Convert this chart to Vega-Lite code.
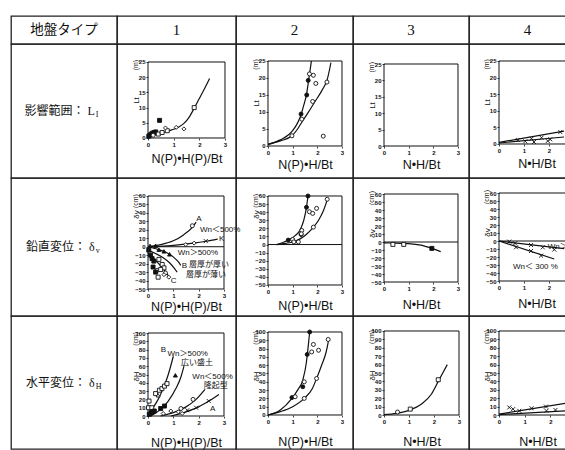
{
"$schema":"https://vega.github.io/schema/vega-lite/v6.json",
"padding":{"left":10,"top":15,"right":0,"bottom":0},
"background":"white",
"columns":5,
"spacing":0,
"bounds":"flush",
"config":{
 "view":{"stroke":"#222","strokeWidth":1.3},
 "axis":{"domain":false,"grid":false,"tickCount":30,"tickSize":2,"tickColor":"#111","tickWidth":0.8,"labelFontSize":6,"labelFontWeight":"bold","labelColor":"#111","labelPadding":1,"labelFont":"Liberation Sans","labelOverlap":false,"labelFlush":false,"labelSeparation":0,"titleFont":"Liberation Sans","titleFontWeight":"normal","titleColor":"#111"},
 "axisX":{"titleFontSize":12.5,"titleBaseline":"middle","titleAlign":"center"},
 "axisY":{"titleFontSize":8,"titleBaseline":"middle","titleAlign":"center","titleAngle":270},
 "text":{"color":"#111"},
 "line":{"color":"#111","strokeWidth":1.2},
 "rule":{"color":"#111","strokeWidth":1},
 "point":{"filled":true,"opacity":1,"stroke":"#111","strokeWidth":0.9,"size":16}
},
"concat":[
 {"width":106,"height":28,"data":{"values":[{}]},"mark":{"type":"text","fontSize":13.5,"font":"Noto Sans CJK JP"},"encoding":{"x":{"datum":0.5,"type":"quantitative","scale":{"domain":[0,1]},"axis":null},"y":{"datum":0.5,"type":"quantitative","scale":{"domain":[0,1]},"axis":null},"text":{"value":"地盤タイプ"}}},
 {"width":119,"height":28,"data":{"values":[{}]},"mark":{"type":"text","fontSize":15,"font":"Liberation Serif"},"encoding":{"x":{"datum":0.5,"type":"quantitative","scale":{"domain":[0,1]},"axis":null},"y":{"datum":0.5,"type":"quantitative","scale":{"domain":[0,1]},"axis":null},"text":{"value":"1"}}},
 {"width":117,"height":28,"data":{"values":[{}]},"mark":{"type":"text","fontSize":15,"font":"Liberation Serif"},"encoding":{"x":{"datum":0.5,"type":"quantitative","scale":{"domain":[0,1]},"axis":null},"y":{"datum":0.5,"type":"quantitative","scale":{"domain":[0,1]},"axis":null},"text":{"value":"2"}}},
 {"width":116,"height":28,"data":{"values":[{}]},"mark":{"type":"text","fontSize":15,"font":"Liberation Serif"},"encoding":{"x":{"datum":0.5,"type":"quantitative","scale":{"domain":[0,1]},"axis":null},"y":{"datum":0.5,"type":"quantitative","scale":{"domain":[0,1]},"axis":null},"text":{"value":"3"}}},
 {"width":117,"height":28,"data":{"values":[{}]},"mark":{"type":"text","fontSize":15,"font":"Liberation Serif"},"encoding":{"x":{"datum":0.5,"type":"quantitative","scale":{"domain":[0,1]},"axis":null},"y":{"datum":0.5,"type":"quantitative","scale":{"domain":[0,1]},"axis":null},"text":{"value":"4"}}},

 {"width":106,"height":134,"data":{"values":[{}]},"layer":[
  {"mark":{"type":"text","align":"right","baseline":"middle","fontSize":12,"font":"Liberation Serif, Noto Sans CJK JP"},"encoding":{"x":{"datum":0.79,"type":"quantitative","scale":{"domain":[0,1]},"axis":null},"y":{"datum":0.5,"type":"quantitative","scale":{"domain":[0,1]},"axis":null},"text":{"value":"影響範囲： L"}}},
  {"mark":{"type":"text","align":"left","baseline":"middle","fontSize":8,"dy":4,"font":"Liberation Serif"},"encoding":{"x":{"datum":0.8,"type":"quantitative","scale":{"domain":[0,1]},"axis":null},"y":{"datum":0.5,"type":"quantitative","scale":{"domain":[0,1]},"axis":null},"text":{"value":"I"}}}
 ]},
 {"width":119,"height":134,
  "layer":[
   {"data":{"values":[{}]},"mark":{"type":"rect","fillOpacity":0,"stroke":"#111","strokeWidth":1},"encoding":{"x":{"datum":0,"type":"quantitative","scale":{"domain":[-1.208,3.429]},"axis":{"values":[0,1,2,3],"format":"d","tickCount":30,"labelOverlap":false,"offset":-40,"title":"N(P)•H(P)/Bt","titleX":69.5,"titleY":20}},"x2":{"datum":3},"y":{"datum":0,"type":"quantitative","scale":{"domain":[-13.158,30.921]},"axis":{"values":[0,5,10,15,20,25],"format":"d","tickCount":30,"labelOverlap":false,"offset":-31,"title":"Lt","titleX":-12,"titleY":56}},"y2":{"datum":25}}},
   {"data":{"values":[{}]},"mark":{"type":"text","angle":270,"fontSize":7,"font":"Liberation Sans"},"encoding":{"x":{"datum":-0.47,"type":"quantitative","scale":{"domain":[-1.208,3.429]}},"y":{"datum":24,"type":"quantitative","scale":{"domain":[-13.158,30.921]}},"text":{"value":"(m)"}}},
   {"data":{"values":[{"s":"a","x":0,"y":0.4},{"s":"a","x":0.3,"y":1.0},{"s":"a","x":0.6,"y":1.8},{"s":"a","x":0.9,"y":2.6},{"s":"a","x":1.2,"y":3.6},{"s":"a","x":1.4,"y":4.8},{"s":"a","x":1.6,"y":6.8},{"s":"a","x":1.8,"y":9.8},{"s":"a","x":2.0,"y":13},{"s":"a","x":2.2,"y":16.2},{"s":"a","x":2.4,"y":19.6}]},"mark":{"type":"line","interpolate":"monotone"},"encoding":{"x":{"field":"x","type":"quantitative","scale":{"domain":[-1.208,3.429]}},"y":{"field":"y","type":"quantitative","scale":{"domain":[-13.158,30.921]}},"detail":{"field":"s"}}},
   {"data":{"values":[{"m":"fs","x":0.03,"y":0.6},{"m":"fs","x":0.08,"y":1.0},{"m":"fs","x":0.13,"y":1.3},{"m":"fs","x":0.18,"y":1.6},{"m":"fs","x":0.24,"y":1.8},{"m":"fs","x":0.3,"y":2.0},{"m":"fs","x":0.45,"y":5.8},{"m":"os","x":0.4,"y":1.3},{"m":"os","x":0.55,"y":1.8},{"m":"os","x":0.75,"y":2.4},{"m":"os","x":1.8,"y":10},{"m":"od","x":0.68,"y":3.3},{"m":"od","x":1.1,"y":3.5},{"m":"od","x":1.4,"y":3.0},{"m":"oc","x":0.2,"y":0.9}]},"mark":{"type":"point"},"encoding":{"x":{"field":"x","type":"quantitative","scale":{"domain":[-1.208,3.429]}},"y":{"field":"y","type":"quantitative","scale":{"domain":[-13.158,30.921]}},"shape":{"field":"m","type":"nominal","scale":{"domain":["oc","fc","os","fs","od","ot","ft","x"],"range":["circle","circle","square","square","diamond","triangle-up","triangle-up","M-1,-1L1,1M-1,1L1,-1"]},"legend":null},"fill":{"field":"m","type":"nominal","scale":{"domain":["oc","fc","os","fs","od","ot","ft","x"],"range":["#fff","#111","#fff","#111","#fff","#fff","#111","transparent"]},"legend":null}}}
  ]},
 {"width":117,"height":134,
  "layer":[
   {"data":{"values":[{}]},"mark":{"type":"rect","fillOpacity":0,"stroke":"#111","strokeWidth":1},"encoding":{"x":{"datum":0,"type":"quantitative","scale":{"domain":[-1.297,3.446]},"axis":{"values":[0,1,2,3],"format":"d","tickCount":30,"labelOverlap":false,"offset":-32,"title":"N(P)•H/Bt","titleX":69,"titleY":18}},"x2":{"datum":3},"y":{"datum":0,"type":"quantitative","scale":{"domain":[-9.412,30.0]},"axis":{"values":[0,5,10,15,20,25],"format":"d","tickCount":30,"labelOverlap":false,"offset":-32,"title":"Lt","titleX":-12,"titleY":59}},"y2":{"datum":25}}},
   {"data":{"values":[{}]},"mark":{"type":"text","angle":270,"fontSize":7,"font":"Liberation Sans"},"encoding":{"x":{"datum":-0.47,"type":"quantitative","scale":{"domain":[-1.297,3.446]}},"y":{"datum":24,"type":"quantitative","scale":{"domain":[-9.412,30.0]}},"text":{"value":"(m)"}}},
   {"data":{"values":[{"s":"a","x":0,"y":0.5},{"s":"a","x":0.5,"y":1.8},{"s":"a","x":1.0,"y":4.5},{"s":"a","x":1.2,"y":6.8},{"s":"a","x":1.34,"y":9.2},{"s":"a","x":1.45,"y":12},{"s":"a","x":1.57,"y":15.5},{"s":"a","x":1.65,"y":19.5},{"s":"a","x":1.72,"y":23},{"s":"a","x":1.76,"y":25},{"s":"b","x":0,"y":0.5},{"s":"b","x":0.5,"y":1.5},{"s":"b","x":0.97,"y":3},{"s":"b","x":1.2,"y":5},{"s":"b","x":1.37,"y":7},{"s":"b","x":1.6,"y":9.5},{"s":"b","x":1.9,"y":13},{"s":"b","x":2.2,"y":16.5},{"s":"b","x":2.4,"y":19.5},{"s":"b","x":2.55,"y":24.5}]},"mark":{"type":"line","interpolate":"monotone"},"encoding":{"x":{"field":"x","type":"quantitative","scale":{"domain":[-1.297,3.446]}},"y":{"field":"y","type":"quantitative","scale":{"domain":[-9.412,30.0]}},"detail":{"field":"s"}}},
   {"data":{"values":[{"m":"oc","x":1.68,"y":21.2},{"m":"oc","x":1.84,"y":20.8},{"m":"oc","x":1.94,"y":18.4},{"m":"oc","x":1.81,"y":13.1},{"m":"oc","x":1.37,"y":7.9},{"m":"oc","x":0.97,"y":3},{"m":"oc","x":2.24,"y":2.9},{"m":"oc","x":2.39,"y":18.8},{"m":"fc","x":1.63,"y":19.3},{"m":"fc","x":1.57,"y":15},{"m":"fc","x":1.34,"y":9.4}]},"mark":{"type":"point"},"encoding":{"x":{"field":"x","type":"quantitative","scale":{"domain":[-1.297,3.446]}},"y":{"field":"y","type":"quantitative","scale":{"domain":[-9.412,30.0]}},"shape":{"field":"m","type":"nominal","scale":{"domain":["oc","fc","os","fs","od","ot","ft","x"],"range":["circle","circle","square","square","diamond","triangle-up","triangle-up","M-1,-1L1,1M-1,1L1,-1"]},"legend":null},"fill":{"field":"m","type":"nominal","scale":{"domain":["oc","fc","os","fs","od","ot","ft","x"],"range":["#fff","#111","#fff","#111","#fff","#fff","#111","transparent"]},"legend":null}}}
  ]},
 {"width":116,"height":134,
  "layer":[
   {"data":{"values":[{}]},"mark":{"type":"rect","fillOpacity":0,"stroke":"#111","strokeWidth":1},"encoding":{"x":{"datum":0,"type":"quantitative","scale":{"domain":[-1.257,3.446]},"axis":{"values":[0,1,2,3],"format":"d","tickCount":30,"labelOverlap":false,"offset":-32,"title":"N•H/Bt","titleX":68,"titleY":18}},"x2":{"datum":3},"y":{"datum":0,"type":"quantitative","scale":{"domain":[-9.756,31.098]},"axis":{"values":[0,5,10,15,20,25],"format":"d","tickCount":30,"labelOverlap":false,"offset":-31,"title":"Lt","titleX":-12,"titleY":61}},"y2":{"datum":25}}},
   {"data":{"values":[{}]},"mark":{"type":"text","angle":270,"fontSize":7,"font":"Liberation Sans"},"encoding":{"x":{"datum":-0.47,"type":"quantitative","scale":{"domain":[-1.257,3.446]}},"y":{"datum":24,"type":"quantitative","scale":{"domain":[-9.756,31.098]}},"text":{"value":"(m)"}}}
  ]},
 {"width":117,"height":134,
  "layer":[
   {"data":{"values":[{}]},"mark":{"type":"rect","fillOpacity":0,"stroke":"#111","strokeWidth":1},"encoding":{"x":{"datum":0,"type":"quantitative","scale":{"domain":[-1.2,3.48]},"axis":{"values":[0,1,2,3],"format":"d","tickCount":30,"labelOverlap":false,"offset":-34,"title":"N•H/Bt","titleX":67.5,"titleY":19}},"x2":{"datum":3},"y":{"datum":0,"type":"quantitative","scale":{"domain":[-10.241,30.12]},"axis":{"values":[0,5,10,15,20,25],"format":"d","tickCount":30,"labelOverlap":false,"offset":-30,"title":"Lt","titleX":-12,"titleY":58}},"y2":{"datum":25}}},
   {"data":{"values":[{}]},"mark":{"type":"text","angle":270,"fontSize":7,"font":"Liberation Sans"},"encoding":{"x":{"datum":-0.47,"type":"quantitative","scale":{"domain":[-1.2,3.48]}},"y":{"datum":24,"type":"quantitative","scale":{"domain":[-10.241,30.12]}},"text":{"value":"(m)"}}},
   {"data":{"values":[{"s":"a","x":0,"y":0.5},{"s":"a","x":2.6,"y":3.9},{"s":"b","x":0,"y":0.3},{"s":"b","x":2.6,"y":2.1}]},"mark":{"type":"line"},"encoding":{"x":{"field":"x","type":"quantitative","scale":{"domain":[-1.2,3.48]}},"y":{"field":"y","type":"quantitative","scale":{"domain":[-10.241,30.12]}},"detail":{"field":"s"}}},
   {"data":{"values":[{"m":"x","x":0.75,"y":1.2},{"m":"x","x":1.05,"y":0.8},{"m":"x","x":1.3,"y":1.6},{"m":"x","x":1.4,"y":0.6},{"m":"x","x":1.7,"y":1.9},{"m":"x","x":1.95,"y":0.9},{"m":"x","x":2.05,"y":1.4},{"m":"x","x":2.45,"y":3.6}]},"mark":{"type":"point"},"encoding":{"x":{"field":"x","type":"quantitative","scale":{"domain":[-1.2,3.48]}},"y":{"field":"y","type":"quantitative","scale":{"domain":[-10.241,30.12]}},"shape":{"field":"m","type":"nominal","scale":{"domain":["oc","fc","os","fs","od","ot","ft","x"],"range":["circle","circle","square","square","diamond","triangle-up","triangle-up","M-1,-1L1,1M-1,1L1,-1"]},"legend":null},"fill":{"field":"m","type":"nominal","scale":{"domain":["oc","fc","os","fs","od","ot","ft","x"],"range":["#fff","#111","#fff","#111","#fff","#fff","#111","transparent"]},"legend":null}}}
  ]},

 {"width":106,"height":138,"data":{"values":[{}]},"layer":[
  {"mark":{"type":"text","align":"right","baseline":"middle","fontSize":12,"font":"Liberation Serif, Noto Sans CJK JP"},"encoding":{"x":{"datum":0.79,"type":"quantitative","scale":{"domain":[0,1]},"axis":null},"y":{"datum":0.5,"type":"quantitative","scale":{"domain":[0,1]},"axis":null},"text":{"value":"鉛直変位： δ"}}},
  {"mark":{"type":"text","align":"left","baseline":"middle","fontSize":8,"dy":4,"font":"Liberation Serif"},"encoding":{"x":{"datum":0.8,"type":"quantitative","scale":{"domain":[0,1]},"axis":null},"y":{"datum":0.5,"type":"quantitative","scale":{"domain":[0,1]},"axis":null},"text":{"value":"v"}}}
 ]},
 {"width":119,"height":138,
  "layer":[
   {"data":{"values":[{}]},"mark":{"type":"rect","fillOpacity":0,"stroke":"#111","strokeWidth":1},"encoding":{"x":{"datum":0,"type":"quantitative","scale":{"domain":[-1.224,3.474]},"axis":{"values":[0,1,2,3],"format":"d","tickCount":30,"labelOverlap":false,"offset":-27,"title":"N(P)•H(P)/Bt","titleX":69,"titleY":17}},"x2":{"datum":3},"y":{"datum":-50,"type":"quantitative","scale":{"domain":[-81.935,81.29]},"axis":{"values":[-50,-40,-30,-20,-10,0,10,20,30,40,50,60],"format":"d","tickCount":30,"labelOverlap":false,"offset":-31,"title":"δv","titleX":-12,"titleY":36}},"y2":{"datum":60}}},
   {"data":{"values":[{}]},"mark":{"type":"text","angle":270,"fontSize":7,"font":"Liberation Sans"},"encoding":{"x":{"datum":-0.47,"type":"quantitative","scale":{"domain":[-1.224,3.474]}},"y":{"datum":54,"type":"quantitative","scale":{"domain":[-81.935,81.29]}},"text":{"value":"(cm)"}}},
   {"data":{"values":[{}]},"mark":{"type":"rule"},"encoding":{"x":{"datum":0,"type":"quantitative","scale":{"domain":[-1.224,3.474]}},"x2":{"datum":3},"y":{"datum":0,"type":"quantitative","scale":{"domain":[-81.935,81.29]}}}},
   {"data":{"values":[{"s":"A","x":0,"y":0},{"s":"A","x":0.5,"y":2.5},{"s":"A","x":1.0,"y":7},{"s":"A","x":1.4,"y":14},{"s":"A","x":1.75,"y":23},{"s":"A","x":1.9,"y":29},{"s":"K","x":0,"y":0},{"s":"K","x":0.6,"y":0.8},{"s":"K","x":1.2,"y":2.2},{"s":"K","x":1.8,"y":4.2},{"s":"K","x":2.3,"y":6.5},{"s":"K","x":2.75,"y":9},{"s":"B","x":0,"y":0},{"s":"B","x":0.43,"y":-3.5},{"s":"B","x":0.63,"y":-5.5},{"s":"B","x":0.85,"y":-9},{"s":"B","x":1.05,"y":-13.5},{"s":"B","x":1.2,"y":-18},{"s":"B","x":1.29,"y":-22},{"s":"M","x":0,"y":-4},{"s":"M","x":0.3,"y":-8},{"s":"M","x":0.6,"y":-13},{"s":"M","x":0.85,"y":-19},{"s":"M","x":1.05,"y":-26},{"s":"M","x":1.15,"y":-30},{"s":"C","x":0,"y":-8},{"s":"C","x":0.2,"y":-13},{"s":"C","x":0.45,"y":-21},{"s":"C","x":0.65,"y":-28},{"s":"C","x":0.82,"y":-35}]},"mark":{"type":"line","interpolate":"monotone"},"encoding":{"x":{"field":"x","type":"quantitative","scale":{"domain":[-1.224,3.474]}},"y":{"field":"y","type":"quantitative","scale":{"domain":[-81.935,81.29]}},"detail":{"field":"s"}}},
   {"data":{"values":[{"m":"ft","x":0.08,"y":1},{"m":"ft","x":0.3,"y":1.2},{"m":"ft","x":0.43,"y":-3.5},{"m":"ft","x":0.63,"y":-5.5},{"m":"ft","x":0.85,"y":-9},{"m":"oc","x":1.75,"y":24.8},{"m":"oc","x":0.36,"y":-28},{"m":"oc","x":0.69,"y":-31},{"m":"od","x":1.49,"y":2.5},{"m":"od","x":1.82,"y":4.3},{"m":"od","x":0.63,"y":-33},{"m":"od","x":0.82,"y":-36},{"m":"x","x":2.28,"y":6.7},{"m":"fs","x":0.03,"y":-4},{"m":"fs","x":0.1,"y":-10},{"m":"fs","x":0.16,"y":-14},{"m":"fs","x":0.23,"y":-17},{"m":"fs","x":0.2,"y":-24},{"m":"fs","x":0.3,"y":-30},{"m":"os","x":0.43,"y":-15},{"m":"os","x":0.56,"y":-21},{"m":"os","x":0.63,"y":-25},{"m":"os","x":0.5,"y":-27},{"m":"os","x":0.4,"y":-36}]},"mark":{"type":"point"},"encoding":{"x":{"field":"x","type":"quantitative","scale":{"domain":[-1.224,3.474]}},"y":{"field":"y","type":"quantitative","scale":{"domain":[-81.935,81.29]}},"shape":{"field":"m","type":"nominal","scale":{"domain":["oc","fc","os","fs","od","ot","ft","x"],"range":["circle","circle","square","square","diamond","triangle-up","triangle-up","M-1,-1L1,1M-1,1L1,-1"]},"legend":null},"fill":{"field":"m","type":"nominal","scale":{"domain":["oc","fc","os","fs","od","ot","ft","x"],"range":["#fff","#111","#fff","#111","#fff","#fff","#111","transparent"]},"legend":null}}},
   {"data":{"values":[{"x":1.9,"y":33,"t":"A"},{"x":2.05,"y":20,"t":"Wn＜500%"},{"x":2.8,"y":9,"t":"K"},{"x":1.17,"y":-8,"t":"Wn＞500%"},{"x":1.33,"y":-23,"t":"B"},{"x":1.62,"y":-22,"t":"層厚が厚い"},{"x":1.5,"y":-34,"t":"層厚が薄い"},{"x":0.9,"y":-41,"t":"C"}]},"mark":{"type":"text","align":"left","baseline":"middle","fontSize":8,"font":"Liberation Sans, Noto Sans CJK JP"},"encoding":{"x":{"field":"x","type":"quantitative","scale":{"domain":[-1.224,3.474]}},"y":{"field":"y","type":"quantitative","scale":{"domain":[-81.935,81.29]}},"text":{"field":"t"}}}
  ]},
 {"width":117,"height":138,
  "layer":[
   {"data":{"values":[{}]},"mark":{"type":"rect","fillOpacity":0,"stroke":"#111","strokeWidth":1},"encoding":{"x":{"datum":0,"type":"quantitative","scale":{"domain":[-1.297,3.446]},"axis":{"values":[0,1,2,3],"format":"d","tickCount":30,"labelOverlap":false,"offset":-31,"title":"N(P)•H/Bt","titleX":69,"titleY":20}},"x2":{"datum":3},"y":{"datum":-50,"type":"quantitative","scale":{"domain":[-88.315,82.247]},"axis":{"values":[-50,-40,-30,-20,-10,0,10,20,30,40,50,60],"format":"d","tickCount":30,"labelOverlap":false,"offset":-32,"title":"δv","titleX":-12,"titleY":36}},"y2":{"datum":60}}},
   {"data":{"values":[{}]},"mark":{"type":"text","angle":270,"fontSize":7,"font":"Liberation Sans"},"encoding":{"x":{"datum":-0.47,"type":"quantitative","scale":{"domain":[-1.297,3.446]}},"y":{"datum":54,"type":"quantitative","scale":{"domain":[-88.315,82.247]}},"text":{"value":"(cm)"}}},
   {"data":{"values":[{}]},"mark":{"type":"rule"},"encoding":{"x":{"datum":0,"type":"quantitative","scale":{"domain":[-1.297,3.446]}},"x2":{"datum":3},"y":{"datum":0,"type":"quantitative","scale":{"domain":[-88.315,82.247]}}}},
   {"data":{"values":[{"s":"a","x":0.35,"y":0},{"s":"a","x":0.6,"y":2.5},{"s":"a","x":0.82,"y":5.5},{"s":"a","x":1.1,"y":11},{"s":"a","x":1.3,"y":18},{"s":"a","x":1.45,"y":30},{"s":"a","x":1.56,"y":46},{"s":"a","x":1.62,"y":60},{"s":"b","x":0.35,"y":0},{"s":"b","x":0.7,"y":1.5},{"s":"b","x":1.05,"y":3.5},{"s":"b","x":1.3,"y":7},{"s":"b","x":1.55,"y":12.5},{"s":"b","x":1.8,"y":20},{"s":"b","x":2.05,"y":30},{"s":"b","x":2.25,"y":42},{"s":"b","x":2.42,"y":57}]},"mark":{"type":"line","interpolate":"monotone"},"encoding":{"x":{"field":"x","type":"quantitative","scale":{"domain":[-1.297,3.446]}},"y":{"field":"y","type":"quantitative","scale":{"domain":[-88.315,82.247]}},"detail":{"field":"s"}}},
   {"data":{"values":[{"m":"fc","x":1.62,"y":60},{"m":"fc","x":1.56,"y":46},{"m":"fc","x":1.34,"y":12.5},{"m":"fc","x":0.82,"y":5.5},{"m":"oc","x":1.68,"y":40.5},{"m":"oc","x":1.81,"y":38.5},{"m":"oc","x":1.97,"y":44.7},{"m":"oc","x":2.4,"y":56},{"m":"oc","x":1.84,"y":21.5},{"m":"oc","x":1.37,"y":17.4},{"m":"oc","x":1.35,"y":13.3},{"m":"oc","x":1.0,"y":6.2},{"m":"oc","x":1.05,"y":3.3},{"m":"oc","x":1.23,"y":3.3}]},"mark":{"type":"point"},"encoding":{"x":{"field":"x","type":"quantitative","scale":{"domain":[-1.297,3.446]}},"y":{"field":"y","type":"quantitative","scale":{"domain":[-88.315,82.247]}},"shape":{"field":"m","type":"nominal","scale":{"domain":["oc","fc","os","fs","od","ot","ft","x"],"range":["circle","circle","square","square","diamond","triangle-up","triangle-up","M-1,-1L1,1M-1,1L1,-1"]},"legend":null},"fill":{"field":"m","type":"nominal","scale":{"domain":["oc","fc","os","fs","od","ot","ft","x"],"range":["#fff","#111","#fff","#111","#fff","#fff","#111","transparent"]},"legend":null}}}
  ]},
 {"width":116,"height":138,
  "layer":[
   {"data":{"values":[{}]},"mark":{"type":"rect","fillOpacity":0,"stroke":"#111","strokeWidth":1},"encoding":{"x":{"datum":0,"type":"quantitative","scale":{"domain":[-1.257,3.446]},"axis":{"values":[0,1,2,3],"format":"d","tickCount":30,"labelOverlap":false,"offset":-34,"title":"N•H/Bt","titleX":68,"titleY":22}},"x2":{"datum":3},"y":{"datum":-50,"type":"quantitative","scale":{"domain":[-92.5,80]},"axis":{"values":[-50,-40,-30,-20,-10,0,10,20,30,40,50,60],"format":"d","tickCount":30,"labelOverlap":false,"offset":-31,"title":"δv","titleX":-12,"titleY":55}},"y2":{"datum":60}}},
   {"data":{"values":[{}]},"mark":{"type":"text","angle":270,"fontSize":7,"font":"Liberation Sans"},"encoding":{"x":{"datum":-0.47,"type":"quantitative","scale":{"domain":[-1.257,3.446]}},"y":{"datum":55,"type":"quantitative","scale":{"domain":[-92.5,80]}},"text":{"value":"(cm)"}}},
   {"data":{"values":[{}]},"mark":{"type":"rule"},"encoding":{"x":{"datum":0,"type":"quantitative","scale":{"domain":[-1.257,3.446]}},"x2":{"datum":3},"y":{"datum":0,"type":"quantitative","scale":{"domain":[-92.5,80]}}}},
   {"data":{"values":[{"s":"a","x":0,"y":-1},{"s":"a","x":0.5,"y":-1.5},{"s":"a","x":1.0,"y":-2},{"s":"a","x":1.5,"y":-4},{"s":"a","x":1.94,"y":-8},{"s":"a","x":2.3,"y":-12}]},"mark":{"type":"line","interpolate":"monotone"},"encoding":{"x":{"field":"x","type":"quantitative","scale":{"domain":[-1.257,3.446]}},"y":{"field":"y","type":"quantitative","scale":{"domain":[-92.5,80]}},"detail":{"field":"s"}}},
   {"data":{"values":[{"m":"os","x":0.36,"y":-3},{"m":"os","x":0.8,"y":-3},{"m":"fs","x":1.94,"y":-8}]},"mark":{"type":"point"},"encoding":{"x":{"field":"x","type":"quantitative","scale":{"domain":[-1.257,3.446]}},"y":{"field":"y","type":"quantitative","scale":{"domain":[-92.5,80]}},"shape":{"field":"m","type":"nominal","scale":{"domain":["oc","fc","os","fs","od","ot","ft","x"],"range":["circle","circle","square","square","diamond","triangle-up","triangle-up","M-1,-1L1,1M-1,1L1,-1"]},"legend":null},"fill":{"field":"m","type":"nominal","scale":{"domain":["oc","fc","os","fs","od","ot","ft","x"],"range":["#fff","#111","#fff","#111","#fff","#fff","#111","transparent"]},"legend":null}}}
  ]},
 {"width":117,"height":138,
  "layer":[
   {"data":{"values":[{}]},"mark":{"type":"rect","fillOpacity":0,"stroke":"#111","strokeWidth":1},"encoding":{"x":{"datum":0,"type":"quantitative","scale":{"domain":[-1.2,3.48]},"axis":{"values":[0,1,2,3],"format":"d","tickCount":30,"labelOverlap":false,"offset":-35,"title":"N•H/Bt","titleX":67.5,"titleY":22}},"x2":{"datum":3},"y":{"datum":-50,"type":"quantitative","scale":{"domain":[-93.75,78.75]},"axis":{"values":[-50,-40,-30,-20,-10,0,10,20,30,40,50,60],"format":"d","tickCount":30,"labelOverlap":false,"offset":-30,"title":"δv","titleX":-12,"titleY":54}},"y2":{"datum":60}}},
   {"data":{"values":[{}]},"mark":{"type":"text","angle":270,"fontSize":7,"font":"Liberation Sans"},"encoding":{"x":{"datum":-0.47,"type":"quantitative","scale":{"domain":[-1.2,3.48]}},"y":{"datum":55,"type":"quantitative","scale":{"domain":[-93.75,78.75]}},"text":{"value":"(cm)"}}},
   {"data":{"values":[{}]},"mark":{"type":"rule"},"encoding":{"x":{"datum":0,"type":"quantitative","scale":{"domain":[-1.2,3.48]}},"x2":{"datum":3},"y":{"datum":0,"type":"quantitative","scale":{"domain":[-93.75,78.75]}}}},
   {"data":{"values":[{"s":"a","x":0,"y":0},{"s":"a","x":2.61,"y":-9.5},{"s":"b","x":0,"y":0},{"s":"b","x":2.21,"y":-22.5}]},"mark":{"type":"line"},"encoding":{"x":{"field":"x","type":"quantitative","scale":{"domain":[-1.2,3.48]}},"y":{"field":"y","type":"quantitative","scale":{"domain":[-93.75,78.75]}},"detail":{"field":"s"}}},
   {"data":{"values":[{"m":"x","x":0.41,"y":-0.8},{"m":"x","x":0.64,"y":-2.9},{"m":"x","x":0.68,"y":-7.9},{"m":"x","x":1.28,"y":-5},{"m":"x","x":1.28,"y":-12.5},{"m":"x","x":1.75,"y":-7.9},{"m":"x","x":1.68,"y":-18.3},{"m":"x","x":2.21,"y":-10.8}]},"mark":{"type":"point"},"encoding":{"x":{"field":"x","type":"quantitative","scale":{"domain":[-1.2,3.48]}},"y":{"field":"y","type":"quantitative","scale":{"domain":[-93.75,78.75]}},"shape":{"field":"m","type":"nominal","scale":{"domain":["oc","fc","os","fs","od","ot","ft","x"],"range":["circle","circle","square","square","diamond","triangle-up","triangle-up","M-1,-1L1,1M-1,1L1,-1"]},"legend":null},"fill":{"field":"m","type":"nominal","scale":{"domain":["oc","fc","os","fs","od","ot","ft","x"],"range":["#fff","#111","#fff","#111","#fff","#fff","#111","transparent"]},"legend":null}}},
   {"data":{"values":[{"x":1.95,"y":-7,"t":"Wn＞300 %"},{"x":0.56,"y":-33,"t":"Wn＜ 300 %"}]},"mark":{"type":"text","align":"left","baseline":"middle","fontSize":8,"font":"Liberation Sans, Noto Sans CJK JP"},"encoding":{"x":{"field":"x","type":"quantitative","scale":{"domain":[-1.2,3.48]}},"y":{"field":"y","type":"quantitative","scale":{"domain":[-93.75,78.75]}},"text":{"field":"t"}}}
  ]},

 {"width":106,"height":133,"data":{"values":[{}]},"layer":[
  {"mark":{"type":"text","align":"right","baseline":"middle","fontSize":12,"font":"Liberation Serif, Noto Sans CJK JP"},"encoding":{"x":{"datum":0.79,"type":"quantitative","scale":{"domain":[0,1]},"axis":null},"y":{"datum":0.5,"type":"quantitative","scale":{"domain":[0,1]},"axis":null},"text":{"value":"水平変位： δ"}}},
  {"mark":{"type":"text","align":"left","baseline":"middle","fontSize":8,"dy":4,"font":"Liberation Serif"},"encoding":{"x":{"datum":0.8,"type":"quantitative","scale":{"domain":[0,1]},"axis":null},"y":{"datum":0.5,"type":"quantitative","scale":{"domain":[0,1]},"axis":null},"text":{"value":"H"}}}
 ]},
 {"width":119,"height":133,
  "layer":[
   {"data":{"values":[{}]},"mark":{"type":"rect","fillOpacity":0,"stroke":"#111","strokeWidth":1},"encoding":{"x":{"datum":0,"type":"quantitative","scale":{"domain":[-1.224,3.474]},"axis":{"values":[0,1,2,3],"format":"d","tickCount":30,"labelOverlap":false,"offset":-33,"title":"N(P)•H(P)/Bt","titleX":69,"titleY":26}},"x2":{"datum":3},"y":{"datum":0,"type":"quantitative","scale":{"domain":[-39.759,120.482]},"axis":{"values":[0,10,20,30,40,50,60,70,80,90,100],"format":"d","tickCount":30,"labelOverlap":false,"offset":-31,"title":"δH","titleX":-12,"titleY":60}},"y2":{"datum":100}}},
   {"data":{"values":[{}]},"mark":{"type":"text","angle":270,"fontSize":7,"font":"Liberation Sans"},"encoding":{"x":{"datum":-0.47,"type":"quantitative","scale":{"domain":[-1.224,3.474]}},"y":{"datum":93,"type":"quantitative","scale":{"domain":[-39.759,120.482]}},"text":{"value":"(cm)"}}},
   {"data":{"values":[{"s":"B","x":0,"y":3},{"s":"B","x":0.2,"y":10},{"s":"B","x":0.4,"y":20},{"s":"B","x":0.6,"y":33},{"s":"B","x":0.8,"y":50},{"s":"B","x":1.0,"y":72},{"s":"W","x":0.1,"y":0},{"s":"W","x":0.5,"y":8},{"s":"W","x":0.8,"y":18},{"s":"W","x":1.1,"y":33},{"s":"W","x":1.3,"y":47},{"s":"W","x":1.42,"y":60},{"s":"R","x":0.5,"y":0},{"s":"R","x":1.0,"y":4},{"s":"R","x":1.5,"y":11},{"s":"R","x":1.9,"y":20},{"s":"R","x":2.25,"y":32},{"s":"A","x":0.9,"y":0},{"s":"A","x":1.5,"y":5},{"s":"A","x":2.0,"y":11},{"s":"A","x":2.4,"y":18},{"s":"A","x":2.8,"y":26}]},"mark":{"type":"line","interpolate":"monotone"},"encoding":{"x":{"field":"x","type":"quantitative","scale":{"domain":[-1.224,3.474]}},"y":{"field":"y","type":"quantitative","scale":{"domain":[-39.759,120.482]}},"detail":{"field":"s"}}},
   {"data":{"values":[{"m":"os","x":0.04,"y":18},{"m":"os","x":0.3,"y":27},{"m":"os","x":0.45,"y":31},{"m":"os","x":0.55,"y":33},{"m":"os","x":0.65,"y":36},{"m":"os","x":0.75,"y":39},{"m":"os","x":0.02,"y":10},{"m":"os","x":0.15,"y":10},{"m":"ot","x":0.4,"y":25},{"m":"ft","x":1.08,"y":49},{"m":"fs","x":0.05,"y":2},{"m":"fs","x":0.12,"y":4},{"m":"fs","x":0.18,"y":5},{"m":"fs","x":0.25,"y":6},{"m":"fs","x":0.5,"y":9},{"m":"fs","x":0.65,"y":12},{"m":"od","x":0.6,"y":3},{"m":"od","x":0.9,"y":6},{"m":"od","x":1.2,"y":5},{"m":"od","x":1.35,"y":3},{"m":"oc","x":1.3,"y":9},{"m":"oc","x":1.78,"y":20},{"m":"x","x":1.55,"y":7},{"m":"x","x":1.9,"y":10},{"m":"x","x":2.4,"y":18}]},"mark":{"type":"point"},"encoding":{"x":{"field":"x","type":"quantitative","scale":{"domain":[-1.224,3.474]}},"y":{"field":"y","type":"quantitative","scale":{"domain":[-39.759,120.482]}},"shape":{"field":"m","type":"nominal","scale":{"domain":["oc","fc","os","fs","od","ot","ft","x"],"range":["circle","circle","square","square","diamond","triangle-up","triangle-up","M-1,-1L1,1M-1,1L1,-1"]},"legend":null},"fill":{"field":"m","type":"nominal","scale":{"domain":["oc","fc","os","fs","od","ot","ft","x"],"range":["#fff","#111","#fff","#111","#fff","#fff","#111","transparent"]},"legend":null}}},
   {"data":{"values":[{"x":0.5,"y":79,"t":"B"},{"x":0.77,"y":75,"t":"Wn＞500%"},{"x":1.3,"y":64,"t":"広い盛土"},{"x":1.75,"y":47,"t":"Wn＜500%"},{"x":2.2,"y":36,"t":"隆起型"},{"x":2.45,"y":9,"t":"A"}]},"mark":{"type":"text","align":"left","baseline":"middle","fontSize":8,"font":"Liberation Sans, Noto Sans CJK JP"},"encoding":{"x":{"field":"x","type":"quantitative","scale":{"domain":[-1.224,3.474]}},"y":{"field":"y","type":"quantitative","scale":{"domain":[-39.759,120.482]}},"text":{"field":"t"}}}
  ]},
 {"width":117,"height":133,
  "layer":[
   {"data":{"values":[{}]},"mark":{"type":"rect","fillOpacity":0,"stroke":"#111","strokeWidth":1},"encoding":{"x":{"datum":0,"type":"quantitative","scale":{"domain":[-1.297,3.446]},"axis":{"values":[0,1,2,3],"format":"d","tickCount":30,"labelOverlap":false,"offset":-34,"title":"N(P)•H/Bt","titleX":69,"titleY":26}},"x2":{"datum":3},"y":{"datum":0,"type":"quantitative","scale":{"domain":[-40.964,119.277]},"axis":{"values":[0,10,20,30,40,50,60,70,80,90,100],"format":"d","tickCount":30,"labelOverlap":false,"offset":-32,"title":"δH","titleX":-12,"titleY":60}},"y2":{"datum":100}}},
   {"data":{"values":[{}]},"mark":{"type":"text","angle":270,"fontSize":7,"font":"Liberation Sans"},"encoding":{"x":{"datum":-0.47,"type":"quantitative","scale":{"domain":[-1.297,3.446]}},"y":{"datum":93,"type":"quantitative","scale":{"domain":[-40.964,119.277]}},"text":{"value":"(cm)"}}},
   {"data":{"values":[{"s":"a","x":0,"y":0},{"s":"a","x":0.5,"y":6},{"s":"a","x":0.97,"y":20},{"s":"a","x":1.2,"y":30},{"s":"a","x":1.41,"y":42},{"s":"a","x":1.55,"y":62},{"s":"a","x":1.62,"y":80},{"s":"a","x":1.69,"y":100},{"s":"b","x":0,"y":0},{"s":"b","x":0.5,"y":4},{"s":"b","x":1.0,"y":10},{"s":"b","x":1.47,"y":20},{"s":"b","x":1.8,"y":32},{"s":"b","x":1.97,"y":44},{"s":"b","x":2.2,"y":62},{"s":"b","x":2.35,"y":75},{"s":"b","x":2.47,"y":92}]},"mark":{"type":"line","interpolate":"monotone"},"encoding":{"x":{"field":"x","type":"quantitative","scale":{"domain":[-1.297,3.446]}},"y":{"field":"y","type":"quantitative","scale":{"domain":[-40.964,119.277]}},"detail":{"field":"s"}}},
   {"data":{"values":[{"m":"fc","x":1.69,"y":100},{"m":"fc","x":1.59,"y":73},{"m":"fc","x":1.41,"y":34},{"m":"fc","x":0.97,"y":21},{"m":"oc","x":1.84,"y":85},{"m":"oc","x":1.77,"y":76},{"m":"oc","x":2.05,"y":78},{"m":"oc","x":2.44,"y":91},{"m":"oc","x":1.47,"y":40},{"m":"oc","x":1.97,"y":44},{"m":"oc","x":1.1,"y":22},{"m":"oc","x":1.47,"y":20}]},"mark":{"type":"point"},"encoding":{"x":{"field":"x","type":"quantitative","scale":{"domain":[-1.297,3.446]}},"y":{"field":"y","type":"quantitative","scale":{"domain":[-40.964,119.277]}},"shape":{"field":"m","type":"nominal","scale":{"domain":["oc","fc","os","fs","od","ot","ft","x"],"range":["circle","circle","square","square","diamond","triangle-up","triangle-up","M-1,-1L1,1M-1,1L1,-1"]},"legend":null},"fill":{"field":"m","type":"nominal","scale":{"domain":["oc","fc","os","fs","od","ot","ft","x"],"range":["#fff","#111","#fff","#111","#fff","#fff","#111","transparent"]},"legend":null}}}
  ]},
 {"width":116,"height":133,
  "layer":[
   {"data":{"values":[{}]},"mark":{"type":"rect","fillOpacity":0,"stroke":"#111","strokeWidth":1},"encoding":{"x":{"datum":0,"type":"quantitative","scale":{"domain":[-1.24,3.4]},"axis":{"values":[0,1,2,3],"format":"d","tickCount":30,"labelOverlap":false,"offset":-34,"title":"N•H/Bt","titleX":68.5,"titleY":26}},"x2":{"datum":3},"y":{"datum":0,"type":"quantitative","scale":{"domain":[-40.476,117.857]},"axis":{"values":[0,10,20,30,40,50,60,70,80,90,100],"format":"d","tickCount":30,"labelOverlap":false,"offset":-31,"title":"δH","titleX":-12,"titleY":59}},"y2":{"datum":100}}},
   {"data":{"values":[{}]},"mark":{"type":"text","angle":270,"fontSize":7,"font":"Liberation Sans"},"encoding":{"x":{"datum":-0.47,"type":"quantitative","scale":{"domain":[-1.24,3.4]}},"y":{"datum":93,"type":"quantitative","scale":{"domain":[-40.476,117.857]}},"text":{"value":"(cm)"}}},
   {"data":{"values":[{"s":"a","x":0,"y":0.5},{"s":"a","x":0.5,"y":2},{"s":"a","x":1.0,"y":5.5},{"s":"a","x":1.5,"y":13},{"s":"a","x":1.9,"y":25},{"s":"a","x":2.17,"y":40},{"s":"a","x":2.35,"y":50},{"s":"a","x":2.53,"y":60}]},"mark":{"type":"line","interpolate":"monotone"},"encoding":{"x":{"field":"x","type":"quantitative","scale":{"domain":[-1.24,3.4]}},"y":{"field":"y","type":"quantitative","scale":{"domain":[-40.476,117.857]}},"detail":{"field":"s"}}},
   {"data":{"values":[{"m":"os","x":1.05,"y":7},{"m":"os","x":2.17,"y":42},{"m":"oc","x":0.54,"y":3.5}]},"mark":{"type":"point"},"encoding":{"x":{"field":"x","type":"quantitative","scale":{"domain":[-1.24,3.4]}},"y":{"field":"y","type":"quantitative","scale":{"domain":[-40.476,117.857]}},"shape":{"field":"m","type":"nominal","scale":{"domain":["oc","fc","os","fs","od","ot","ft","x"],"range":["circle","circle","square","square","diamond","triangle-up","triangle-up","M-1,-1L1,1M-1,1L1,-1"]},"legend":null},"fill":{"field":"m","type":"nominal","scale":{"domain":["oc","fc","os","fs","od","ot","ft","x"],"range":["#fff","#111","#fff","#111","#fff","#fff","#111","transparent"]},"legend":null}}}
  ]},
 {"width":117,"height":133,
  "layer":[
   {"data":{"values":[{}]},"mark":{"type":"rect","fillOpacity":0,"stroke":"#111","strokeWidth":1},"encoding":{"x":{"datum":0,"type":"quantitative","scale":{"domain":[-1.169,3.39]},"axis":{"values":[0,1,2,3],"format":"d","tickCount":30,"labelOverlap":false,"offset":-34,"title":"N•H/Bt","titleX":68.5,"titleY":26}},"x2":{"datum":3},"y":{"datum":0,"type":"quantitative","scale":{"domain":[-40.476,117.857]},"axis":{"values":[0,10,20,30,40,50,60,70,80,90,100],"format":"d","tickCount":30,"labelOverlap":false,"offset":-30,"title":"δH","titleX":-12,"titleY":60}},"y2":{"datum":100}}},
   {"data":{"values":[{}]},"mark":{"type":"text","angle":270,"fontSize":7,"font":"Liberation Sans"},"encoding":{"x":{"datum":-0.47,"type":"quantitative","scale":{"domain":[-1.169,3.39]}},"y":{"datum":93,"type":"quantitative","scale":{"domain":[-40.476,117.857]}},"text":{"value":"(cm)"}}},
   {"data":{"values":[{"s":"a","x":0,"y":1},{"s":"a","x":2.62,"y":14},{"s":"b","x":0,"y":0.5},{"s":"b","x":2.62,"y":5}]},"mark":{"type":"line"},"encoding":{"x":{"field":"x","type":"quantitative","scale":{"domain":[-1.169,3.39]}},"y":{"field":"y","type":"quantitative","scale":{"domain":[-40.476,117.857]}},"detail":{"field":"s"}}},
   {"data":{"values":[{"m":"x","x":0.4,"y":9},{"m":"x","x":0.55,"y":7},{"m":"x","x":0.79,"y":5},{"m":"x","x":1.27,"y":8},{"m":"x","x":1.83,"y":10},{"m":"x","x":1.85,"y":5},{"m":"x","x":2.2,"y":6}]},"mark":{"type":"point"},"encoding":{"x":{"field":"x","type":"quantitative","scale":{"domain":[-1.169,3.39]}},"y":{"field":"y","type":"quantitative","scale":{"domain":[-40.476,117.857]}},"shape":{"field":"m","type":"nominal","scale":{"domain":["oc","fc","os","fs","od","ot","ft","x"],"range":["circle","circle","square","square","diamond","triangle-up","triangle-up","M-1,-1L1,1M-1,1L1,-1"]},"legend":null},"fill":{"field":"m","type":"nominal","scale":{"domain":["oc","fc","os","fs","od","ot","ft","x"],"range":["#fff","#111","#fff","#111","#fff","#fff","#111","transparent"]},"legend":null}}}
  ]}
]
}
